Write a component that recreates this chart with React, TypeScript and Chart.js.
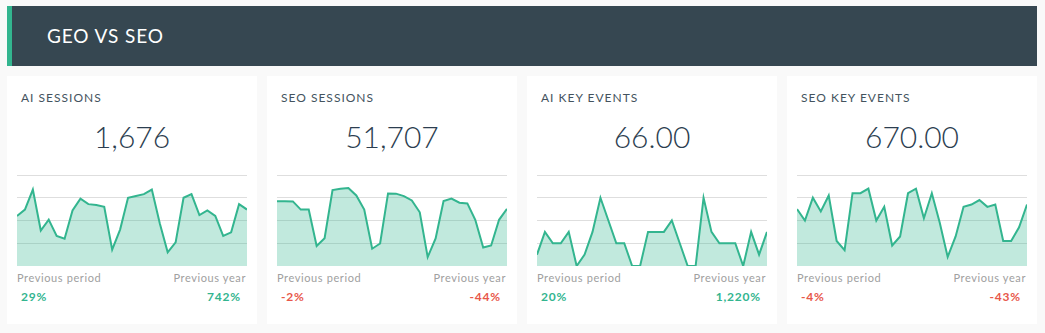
import React, { useEffect, useRef } from "react";
import { Chart, registerables } from "chart.js";

Chart.register(...registerables);

const dashboardTitle = "GEO VS SEO";
const days = Array.from({ length: 30 }, (_, i) => `Day ${i + 1}`);

const cardTitles = ["AI SESSIONS", "SEO SESSIONS", "AI KEY EVENTS", "SEO KEY EVENTS"];
const totals = ["1,676", "51,707", "66.00", "670.00"];
const previousPeriod = ["29%", "-2%", "20%", "-4%"];
const previousYear = ["742%", "-44%", "1,220%", "-43%"];
const scaleSteps = [25, 750, 2, 10];

const aiSessions = [55, 62, 84, 39, 51, 33, 30, 61, 74, 68, 67, 65, 18, 40, 75, 77, 79, 84, 47, 15, 26, 75, 79, 56, 61, 55, 33, 37, 68, 62];
const seoSessions = [2138, 2138, 2130, 1860, 1860, 660, 915, 2505, 2550, 2573, 2325, 1860, 570, 743, 2393, 2385, 2303, 2160, 1770, 293, 908, 2138, 2220, 2085, 2063, 1523, 608, 675, 1523, 1883];
const aiKeyEvents = [1, 3, 2, 2, 3, 0, 1, 3, 6, 4, 2, 2, 0, 0, 3, 3, 3, 4, 2, 0, 0, 6, 3, 2, 2, 2, 0, 3, 1, 3];
const seoKeyEvents = [25, 20, 30, 24, 31, 11, 7, 32, 32, 34, 20, 26, 9, 13, 32, 34, 21, 32, 19, 4, 13, 26, 27, 29, 26, 27, 11, 11, 17, 27];

const seriesList = [aiSessions, seoSessions, aiKeyEvents, seoKeyEvents];

const GREEN = "#33b58f";
const RED = "#e8574a";
const FONT = "Lato, 'Open Sans', sans-serif";

function Spark({ data, step }: { data: number[]; step: number }) {
  const ref = useRef<HTMLCanvasElement | null>(null);
  useEffect(() => {
    if (!ref.current) return;
    const chart = new Chart(ref.current, {
      type: "line",
      data: {
        labels: days,
        datasets: [
          {
            data,
            borderColor: GREEN,
            borderWidth: 2,
            backgroundColor: "rgba(51,181,143,0.3)",
            fill: "start",
            pointRadius: 0,
            tension: 0,
          },
        ],
      },
      options: {
        animation: false,
        responsive: false,
        maintainAspectRatio: false,
        layout: { padding: 0 },
        plugins: { legend: { display: false }, tooltip: { enabled: false } },
        scales: {
          x: { display: false, offset: false },
          y: {
            min: 0,
            max: step * 4,
            ticks: { display: false, stepSize: step },
            grid: { color: "#dedede", lineWidth: 1, drawTicks: false },
            border: { display: false },
          },
        },
      },
    });
    return () => chart.destroy();
  }, [data, step]);
  return <canvas ref={ref} width={230} height={91} style={{ position: "absolute", left: 10, top: 99, width: 230, height: 91 }} />;
}

function Card({ i }: { i: number }) {
  const pp = previousPeriod[i];
  const py = previousYear[i];
  const colorOf = (s: string) => (s.startsWith("-") ? RED : GREEN);
  return (
    <div style={{ position: "absolute", left: 7 + i * 260, top: 76, width: 250, height: 248, background: "#fff" }}>
      <div style={{ position: "absolute", left: 14, top: 14, fontSize: 12, letterSpacing: 1, color: "#44535e", lineHeight: "16px" }}>
        {cardTitles[i]}
      </div>
      <div style={{ position: "absolute", left: 0, width: 250, top: 41, textAlign: "center", fontSize: 30, fontWeight: 300, color: "#2c3e50", lineHeight: "38px" }}>
        {totals[i]}
      </div>
      <Spark data={seriesList[i]} step={scaleSteps[i]} />
      <div style={{ position: "absolute", left: 10, top: 194, fontSize: 11, letterSpacing: 0.6, color: "#a0a0a0", lineHeight: "16px" }}>Previous period</div>
      <div style={{ position: "absolute", right: 11, top: 194, fontSize: 11, letterSpacing: 0.6, color: "#a0a0a0", lineHeight: "16px" }}>Previous year</div>
      <div style={{ position: "absolute", left: 14, top: 213, fontSize: 12, fontWeight: 700, letterSpacing: 0.8, color: colorOf(pp), lineHeight: "16px" }}>{pp}</div>
      <div style={{ position: "absolute", right: 16, top: 213, fontSize: 12, fontWeight: 700, letterSpacing: 0.8, color: colorOf(py), lineHeight: "16px" }}>{py}</div>
    </div>
  );
}

export default function App() {
  useEffect(() => {
    document.body.style.margin = "0";
    document.body.style.background = "#f9f9f9";
  }, []);
  return (
    <div style={{ position: "relative", width: 1045, height: 333, background: "#f9f9f9", fontFamily: FONT, overflow: "hidden" }}>
      <div style={{ position: "absolute", left: 7, top: 6, width: 1030, height: 60, background: "#364751" }}>
        <div style={{ position: "absolute", left: 0, top: 0, width: 5, height: 60, background: GREEN }} />
        <div style={{ position: "absolute", left: 40, top: 0, lineHeight: "60px", fontSize: 19, letterSpacing: 0.9, color: "#ffffff" }}>{dashboardTitle}</div>
      </div>
      {cardTitles.map((_, i) => (
        <Card key={i} i={i} />
      ))}
    </div>
  );
}
